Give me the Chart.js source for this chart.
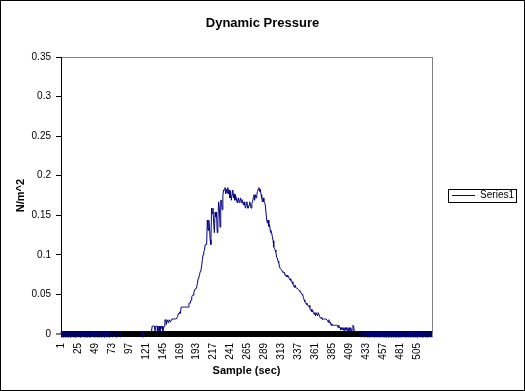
<!DOCTYPE html>
<html><head><meta charset="utf-8">
<script src="https://cdn.jsdelivr.net/npm/chart.js@4/dist/chart.umd.min.js"></script>
<style>
html,body{margin:0;padding:0;background:#fff;}
#frame{position:absolute;left:0;top:0;width:523px;height:389px;border:1px solid #000;background:#fff;}
canvas{display:block;}
</style></head><body>
<div id="frame"><canvas id="c" width="523" height="389"></canvas></div>
<script>
const chartTitle = 'Dynamic Pressure';
const xTitle = 'Sample (sec)';
const yTitle = 'N/m^2';
const seriesName = 'Series1';
const xTickLabels = [1,25,49,73,97,121,145,169,193,217,241,265,289,313,337,361,385,409,433,457,481,505];
const yMin = 0, yMax = 0.35, yStep = 0.05;
const pressure = [
0.003,-0.004,0.003,-0.004,0.003,0.003,-0.004,0.003,-0.004,0.003,
-0.004,0.003,0.003,-0.004,0.003,-0.004,0.003,0.003,-0.004,0.003,
-0.004,0.003,-0.004,0.003,0.003,-0.004,0.003,-0.004,0.003,-0.004,
0.003,0.003,-0.004,0.003,-0.004,0.003,0.003,-0.004,0.003,0.003,
-0.004,0.003,-0.004,0.003,0.003,0.003,-0.004,0.003,-0.004,0.003,
0.003,-0.004,0.003,0.003,-0.004,0.003,0.003,0.003,-0.004,0.003,
0.003,-0.004,0.003,0.003,0.003,-0.004,0.003,0.003,-0.004,0.003,
0.003,0.003,0.003,-0.004,0.003,0.003,0.003,0.003,-0.004,0.003,
0.003,0.003,0.003,0.003,-0.004,0.003,0.003,0.003,0.003,0.003,
0.003,0.003,0.003,0.003,0.003,0.003,0.003,0.003,0.003,0.003,
0.003,0.003,0.003,0.003,0.003,0.003,0.003,0.003,0.003,0.003,
0.003,0.003,0.003,0.003,0.003,0.003,-0.004,0.003,0.003,0.003,
0.003,0.003,0.003,0.003,0.003,0.003,0.003,0.003,0.003,0.010,
0.010,0.010,0.010,0.003,0.010,0.010,0.010,0.003,0.007,0.010,
0.003,0.010,0.007,0.010,0.003,0.007,0.010,0.018,0.018,0.012,
0.018,0.018,0.014,0.018,0.018,0.015,0.018,0.019,0.019,0.019,
0.019,0.019,0.019,0.019,0.019,0.022,0.026,0.026,0.028,0.026,
0.034,0.034,0.034,0.034,0.034,0.034,0.034,0.034,0.034,0.034,
0.034,0.039,0.039,0.039,0.043,0.047,0.049,0.049,0.052,0.056,
0.056,0.058,0.060,0.064,0.070,0.072,0.075,0.079,0.081,0.086,
0.094,0.100,0.104,0.106,0.113,0.113,0.113,0.144,0.131,0.144,
0.136,0.119,0.113,0.159,0.152,0.159,0.140,0.128,0.154,0.148,
0.154,0.128,0.145,0.167,0.160,0.135,0.169,0.169,0.157,0.175,
0.182,0.182,0.185,0.177,0.183,0.178,0.185,0.177,0.182,0.172,
0.180,0.169,0.176,0.182,0.172,0.177,0.169,0.175,0.172,0.166,
0.170,0.172,0.166,0.169,0.172,0.166,0.170,0.167,0.163,0.167,
0.163,0.159,0.163,0.167,0.159,0.159,0.163,0.167,0.163,0.159,
0.165,0.167,0.172,0.176,0.169,0.176,0.172,0.176,0.180,0.183,
0.185,0.180,0.183,0.176,0.172,0.167,0.172,0.167,0.166,0.163,
0.163,0.144,0.140,0.144,0.136,0.138,0.131,0.128,0.128,0.123,
0.118,0.110,0.108,0.106,0.104,0.097,0.096,0.092,0.090,0.086,
0.083,0.083,0.081,0.079,0.078,0.077,0.078,0.074,0.075,0.072,
0.074,0.072,0.072,0.070,0.068,0.070,0.066,0.066,0.063,0.062,
0.059,0.062,0.059,0.058,0.058,0.058,0.056,0.055,0.054,0.052,
0.052,0.050,0.049,0.046,0.043,0.041,0.039,0.039,0.037,0.037,
0.035,0.036,0.033,0.030,0.031,0.028,0.030,0.027,0.025,0.027,
0.023,0.027,0.027,0.023,0.027,0.027,0.022,0.020,0.020,0.021,
0.018,0.019,0.019,0.019,0.019,0.019,0.019,0.017,0.015,0.018,
0.014,0.015,0.011,0.013,0.011,0.011,0.011,0.011,0.011,0.011,
0.011,0.011,0.008,0.011,0.008,0.008,0.005,0.008,0.008,0.005,
0.008,0.003,0.008,0.005,0.008,0.003,0.008,0.003,0.008,0.003,
0.008,0.003,0.003,0.011,0.010,0.003,0.003,0.003,0.003,0.003,
0.003,0.003,0.003,0.003,-0.004,0.003,0.003,0.003,-0.004,0.003,
0.003,-0.004,0.003,0.003,-0.004,0.003,-0.004,0.003,0.003,-0.004,
0.003,0.003,-0.004,0.003,-0.004,0.003,0.003,-0.004,0.003,-0.004,
0.003,-0.004,0.003,0.003,-0.004,0.003,-0.004,0.003,-0.004,0.003,
-0.004,0.003,0.003,-0.004,0.003,-0.004,0.003,-0.004,0.003,0.003,
-0.004,0.003,-0.004,0.003,-0.004,0.003,0.003,-0.004,0.003,-0.004,
0.003,-0.004,0.003,-0.004,0.003,0.003,-0.004,0.003,-0.004,0.003,
-0.004,0.003,-0.004,0.003,0.003,-0.004,0.003,-0.004,0.003,-0.004,
0.003,0.003,-0.004,0.003,-0.004,0.003,-0.004,0.003,0.003,-0.004,
0.003,-0.004,0.003,-0.004,0.003,0.003,-0.004,0.003,-0.004,0.003,
-0.004,0.003,0.003,-0.004,0.003,-0.004
];
const samples = pressure.map((_, k) => k + 1);

const lineColor = '#000080';
const frameGray = '#808080';

Chart.defaults.font.family = '"Liberation Sans", Arial, sans-serif';
Chart.defaults.color = '#000';

const legendFrame = {
  id: 'legendFrame',
  afterDraw(chart) {
    const hb = chart.legend && chart.legend.legendHitBoxes && chart.legend.legendHitBoxes[0];
    if (!hb) return;
    const ctx = chart.ctx;
    ctx.save();
    ctx.strokeStyle = '#000';
    ctx.lineWidth = 1;
    ctx.strokeRect(Math.round(hb.left) - 3.5, Math.round(hb.top) - 1.5, Math.round(hb.width) + 6, Math.round(hb.height) + 3);
    ctx.restore();
  }
};

new Chart(document.getElementById('c'), {
  type: 'line',
  data: {
    labels: samples,
    datasets: [{
      label: seriesName,
      data: pressure,
      borderColor: lineColor,
      backgroundColor: lineColor,
      borderWidth: 1,
      pointRadius: 0,
      tension: 0,
      fill: false,
      clip: false
    }]
  },
  options: {
    responsive: false,
    animation: false,
    devicePixelRatio: 1,
    layout: { padding: 0 },
    plugins: {
      title: {
        display: true,
        text: chartTitle,
        color: '#000',
        font: { size: 13, weight: 'bold', lineHeight: '16px' },
        padding: { top: 14, bottom: 26 }
      },
      legend: {
        display: true,
        position: 'right',
        labels: {
          boxWidth: 23,
          boxHeight: 1,
          padding: 20,
          color: '#000',
          font: { size: 10 },
          generateLabels: () => [{ text: seriesName, fillStyle: lineColor, strokeStyle: lineColor, lineWidth: 0, hidden: false, datasetIndex: 0 }]
        }
      },
      tooltip: { enabled: false }
    },
    scales: {
      x: {
        type: 'category',
        offset: false,
        border: { display: false },
        grid: {
          display: true,
          drawOnChartArea: true,
          drawTicks: false,
          lineWidth: 1,
          color: (ctx) => (ctx.index === pressure.length - 1 ? frameGray : 'rgba(0,0,0,0)')
        },
        ticks: {
          autoSkip: false,
          maxRotation: 90,
          minRotation: 90,
          padding: 9,
          color: '#000',
          font: { size: 10 },
          callback: function (val, idx) {
            const lab = samples[idx];
            return xTickLabels.includes(lab) ? String(lab) : '';
          }
        },
        title: {
          display: true,
          text: xTitle,
          color: '#000',
          font: { size: 11, weight: 'bold' },
          padding: { top: 0, bottom: 12 }
        },
        afterFit: (s) => { s.height = 56; }
      },
      y: {
        min: yMin,
        max: yMax,
        border: { display: true, color: '#000', width: 1 },
        grid: {
          display: true,
          drawOnChartArea: true,
          drawTicks: true,
          tickLength: 5,
          tickWidth: 1,
          tickColor: '#000',
          color: (ctx) => {
            const v = ctx.tick ? ctx.tick.value : null;
            if (v === null) return 'rgba(0,0,0,0)';
            if (Math.abs(v) < 1e-9) return '#000';
            if (Math.abs(v - yMax) < 1e-9) return frameGray;
            return 'rgba(0,0,0,0)';
          },
          lineWidth: (ctx) => {
            const v = ctx.tick ? ctx.tick.value : null;
            if (v !== null && Math.abs(v) < 1e-9) return 6;
            return 1;
          }
        },
        ticks: {
          stepSize: yStep,
          padding: 5,
          color: '#000',
          font: { size: 10 },
          callback: (v) => String(+Number(v).toFixed(2))
        },
        title: {
          display: true,
          text: yTitle,
          color: '#000',
          font: { size: 11, weight: 'bold' },
          padding: { top: 13, bottom: 0 }
        },
        afterFit: (s) => { s.width = 60; }
      }
    }
  },
  plugins: [legendFrame]
});
</script>
</body></html>
